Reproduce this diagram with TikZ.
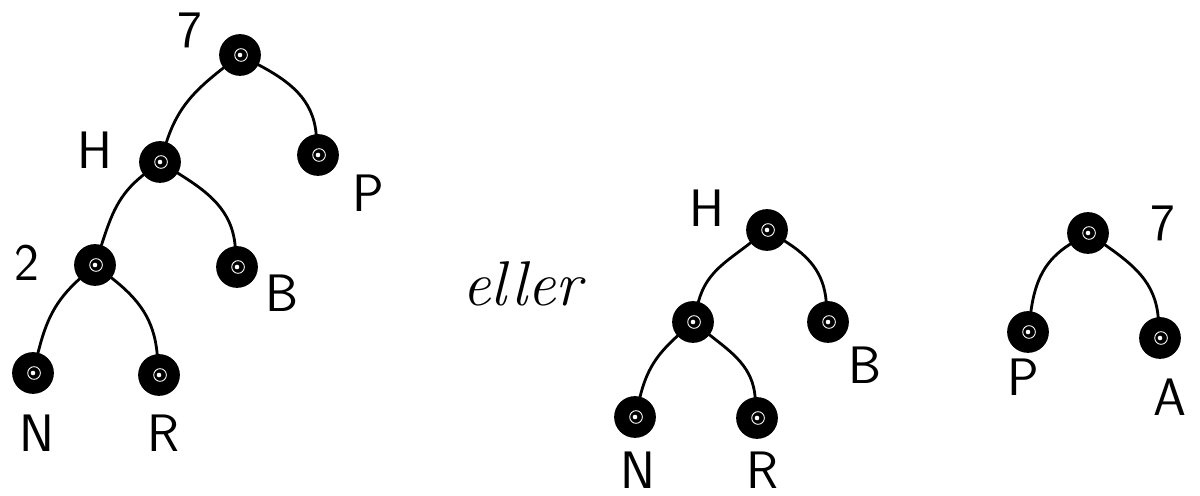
\documentclass[tikz,border=0pt]{standalone}
\usepackage{tikz}

\tikzset{
  knot/.style={circle,fill=black,draw=black,line width=1pt,minimum size=0.8cm,inner sep=0pt,
    path picture={\draw[white,line width=0.5pt] ([xshift=0.6pt]path picture bounding box.center) circle (3.6pt);
                  \fill[white] (path picture bounding box.center) circle (1.3pt);}},
  lbl/.style={font=\sffamily\fontsize{30}{30}\selectfont},
  branch/.style={line width=1.6pt,line cap=round}
}

\begin{document}
\begin{tikzpicture}[x=0.02cm,y=0.02cm]
\useasboundingbox (0,0) rectangle (1200,496);
% first tree
\node[knot] (t7) at (240,441) {}; \node[knot] (tH) at (160,334) {}; \node[knot] (tP) at (318,341) {};
\node[knot] (t2) at (95,231) {}; \node[knot] (tB) at (237,229) {};
\node[knot] (tN) at (33,123) {}; \node[knot] (tR) at (159,121) {};
\draw[branch] (t7) to[out=218,in=72] (tH); \draw[branch] (t7) to[out=-28,in=95] (tP);
\draw[branch] (tH) to[out=218,in=72] (t2); \draw[branch] (tH) to[out=-32,in=95] (tB);
\draw[branch] (t2) to[out=222,in=76] (tN); \draw[branch] (t2) to[out=-38,in=95] (tR);
\node[lbl] (l7) at (190,466) {7}; \node[lbl] (lH) at (95,346) {H}; \node[lbl] (lP) at (368,303) {P};
\node[lbl] (l2) at (27,233) {2}; \node[lbl] (lB) at (282,203) {B};
\node[lbl] (lN) at (37,63) {N}; \node[lbl] (lR) at (163,63) {R};
% word between the trees
\node[font=\itshape\fontsize{36}{36}\selectfont] (or) at (522,212) {eller};
% second tree
\node[knot] (uH) at (767,266) {}; \node[knot] (uM) at (693,174) {}; \node[knot] (uB) at (828,174) {};
\node[knot] (uN) at (635,79) {}; \node[knot] (uR) at (757,78) {};
\draw[branch] (uH) to[out=218,in=75] (uM); \draw[branch] (uH) to[out=-32,in=95] (uB);
\draw[branch] (uM) to[out=222,in=76] (uN); \draw[branch] (uM) to[out=-38,in=95] (uR);
\node[lbl] (mH) at (707,288) {H}; \node[lbl] (mB) at (865,131) {B};
\node[lbl] (mN) at (638,26) {N}; \node[lbl] (mR) at (762,26) {R};
% third tree
\node[knot] (v7) at (1088,263) {}; \node[knot] (vP) at (1028,164) {}; \node[knot] (vA) at (1160,158) {};
\draw[branch] (v7) to[out=212,in=82] (vP); \draw[branch] (v7) to[out=-35,in=95] (vA);
\node[lbl] (r7) at (1163,273) {7}; \node[lbl] (rP) at (1023,119) {P}; \node[lbl] (rA) at (1170,99) {A};
\end{tikzpicture}
\end{document}
